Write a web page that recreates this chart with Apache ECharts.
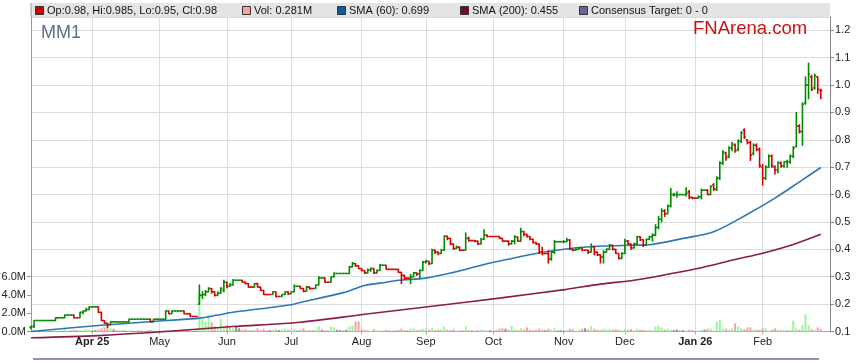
<!DOCTYPE html>
<html><head><meta charset="utf-8">
<script src="https://cdn.jsdelivr.net/npm/echarts@6/dist/echarts.min.js"></script>
<style>html,body{margin:0;padding:0;background:#fff}#c{width:859px;height:363px}</style>
</head><body><div id="c"></div>
<script>
// ---------------- DATA ----------------
const monthNames = ['Jan','Feb','Mar','Apr','May','Jun','Jul','Aug','Sep','Oct','Nov','Dec'];
// trading-day categories: weekdays 2025-03-04 .. 2026-03-04
const categories = [];
(function(){let t=Date.UTC(2025,2,4);const end=Date.UTC(2026,2,4);
 while(t<=end){const d=new Date(t);const w=d.getUTCDay();if(w!==0&&w!==6)categories.push(d.toISOString().slice(0,10));t+=86400000;}})();

const opens = [
.115,.12,.14,.14,.14,.14,.14,.14,.14,.15,
.15,.15,.16,.16,.16,.15,.15,.17,.175,.18,
.19,.19,.19,.17,.14,.13,.125,.135,.135,.135,
.135,.135,.135,.145,.145,.145,.145,.145,.145,.145,
.135,.145,.145,.145,.145,.175,.165,.175,.175,.175,
.175,.165,.165,.155,.155,.20,.232,.235,.245,.257,
.245,.232,.24,.25,.28,.265,.27,.287,.287,.287,
.28,.275,.262,.262,.275,.262,.25,.235,.235,.235,
.245,.228,.228,.235,.245,.238,.245,.265,.265,.257,
.247,.262,.257,.257,.27,.296,.296,.28,.28,.30,
.312,.312,.312,.312,.312,.336,.348,.34,.33,.323,
.314,.325,.33,.314,.323,.342,.342,.327,.327,.327,
.327,.316,.305,.295,.295,.30,.314,.31,.323,.354,
.356,.348,.397,.39,.385,.397,.448,.44,.419,.403,
.408,.397,.397,.44,.432,.432,.43,.42,.437,.452,
.447,.447,.447,.447,.44,.43,.43,.42,.43,.445,
.43,.465,.455,.447,.437,.425,.42,.39,.385,.385,
.365,.39,.428,.428,.428,.428,.434,.40,.397,.40,
.405,.397,.397,.39,.41,.39,.38,.372,.39,.40,
.415,.40,.385,.367,.385,.43,.42,.405,.42,.446,
.435,.415,.437,.446,.452,.48,.51,.54,.53,.558,
.60,.60,.60,.60,.60,.61,.59,.587,.587,.592,
.616,.616,.60,.635,.62,.66,.715,.75,.74,.77,
.78,.765,.795,.835,.80,.79,.75,.78,.765,.70,
.66,.70,.74,.70,.69,.715,.705,.72,.72,.74,
.775,.85,.83,.935,1.0,1.03,.99,1.03,.98];
const highs = [
.12,.14,.14,.14,.14,.14,.14,.14,.15,.15,
.15,.16,.16,.16,.16,.15,.17,.175,.185,.19,
.19,.19,.19,.17,.14,.13,.135,.135,.135,.135,
.135,.135,.145,.145,.145,.145,.145,.145,.145,.145,
.145,.145,.145,.145,.175,.175,.175,.175,.175,.175,
.175,.165,.165,.155,.155,.27,.245,.25,.26,.257,
.245,.245,.26,.287,.28,.275,.29,.287,.287,.287,
.28,.275,.262,.275,.275,.262,.25,.235,.235,.245,
.245,.228,.235,.245,.245,.245,.27,.265,.265,.257,
.265,.262,.257,.27,.30,.296,.296,.28,.30,.315,
.312,.312,.312,.312,.338,.352,.348,.34,.33,.323,
.328,.332,.33,.325,.345,.342,.342,.327,.327,.327,
.327,.316,.305,.295,.308,.316,.314,.325,.356,.36,
.356,.40,.397,.39,.40,.45,.448,.44,.419,.412,
.408,.397,.46,.445,.432,.432,.43,.44,.472,.452,
.447,.447,.447,.447,.44,.43,.43,.432,.45,.445,
.477,.465,.455,.447,.437,.425,.42,.408,.385,.395,
.392,.432,.428,.428,.432,.44,.436,.40,.402,.408,
.405,.397,.397,.42,.41,.39,.38,.395,.402,.418,
.415,.40,.385,.388,.437,.432,.42,.422,.448,.446,
.435,.437,.448,.456,.49,.52,.548,.545,.562,.622,
.605,.61,.60,.60,.625,.615,.59,.587,.595,.62,
.616,.618,.632,.64,.665,.72,.76,.755,.775,.79,
.785,.80,.83,.84,.80,.795,.785,.785,.77,.71,
.705,.745,.745,.705,.72,.72,.72,.725,.745,.775,
.90,.855,.935,1.03,1.08,1.035,1.04,1.03,.985];
const lows = [
.11,.115,.14,.14,.14,.14,.14,.14,.14,.15,
.15,.15,.16,.16,.15,.15,.15,.165,.175,.18,
.19,.19,.17,.14,.13,.115,.125,.135,.135,.135,
.135,.135,.135,.145,.145,.145,.145,.145,.145,.135,
.135,.145,.145,.145,.145,.165,.165,.175,.175,.175,
.165,.165,.155,.155,.155,.20,.22,.232,.245,.24,
.23,.232,.24,.245,.26,.265,.27,.287,.287,.28,
.275,.262,.262,.262,.262,.25,.235,.235,.235,.235,
.226,.228,.228,.235,.235,.238,.245,.265,.257,.245,
.247,.255,.257,.257,.27,.296,.28,.28,.28,.30,
.312,.312,.312,.312,.312,.336,.338,.33,.322,.312,
.314,.32,.312,.314,.323,.342,.327,.327,.327,.327,
.316,.275,.29,.295,.275,.30,.305,.295,.323,.35,
.345,.348,.385,.38,.385,.397,.435,.418,.40,.403,
.395,.397,.397,.43,.432,.428,.418,.42,.437,.445,
.447,.447,.447,.44,.43,.43,.415,.42,.42,.43,
.43,.45,.445,.435,.422,.418,.385,.38,.385,.35,
.36,.385,.428,.428,.425,.428,.40,.395,.397,.40,
.395,.397,.385,.39,.38,.378,.35,.35,.39,.40,
.398,.385,.365,.367,.385,.418,.40,.405,.42,.432,
.41,.415,.435,.43,.45,.475,.50,.52,.53,.555,
.595,.59,.60,.60,.595,.585,.585,.587,.587,.585,
.616,.60,.60,.615,.615,.655,.71,.725,.735,.76,
.755,.76,.79,.805,.785,.725,.745,.76,.70,.635,
.655,.70,.70,.675,.68,.70,.70,.70,.715,.735,
.775,.825,.78,.93,.95,.98,.985,.97,.95];
const closes = [
.115,.14,.14,.14,.14,.14,.14,.14,.15,.15,
.15,.16,.16,.16,.15,.15,.17,.175,.18,.19,
.19,.19,.17,.14,.13,.125,.135,.135,.135,.135,
.135,.135,.145,.145,.145,.145,.145,.145,.145,.135,
.145,.145,.145,.145,.175,.165,.175,.175,.175,.175,
.165,.165,.155,.155,.155,.232,.235,.245,.257,.245,
.232,.24,.257,.28,.265,.27,.287,.287,.287,.28,
.275,.262,.262,.275,.262,.25,.235,.235,.235,.245,
.228,.228,.235,.245,.238,.245,.265,.265,.257,.247,
.262,.257,.257,.27,.296,.296,.28,.28,.30,.312,
.312,.312,.312,.312,.336,.348,.34,.33,.323,.314,
.325,.33,.314,.323,.342,.342,.327,.327,.327,.327,
.316,.305,.295,.295,.30,.314,.31,.323,.354,.356,
.348,.397,.39,.385,.397,.448,.44,.419,.403,.408,
.397,.397,.44,.432,.432,.43,.42,.437,.452,.447,
.447,.447,.447,.44,.43,.43,.42,.43,.445,.43,
.465,.455,.447,.437,.425,.42,.39,.385,.385,.365,
.39,.428,.428,.428,.428,.434,.40,.397,.40,.405,
.397,.397,.39,.41,.39,.38,.372,.39,.40,.415,
.40,.385,.367,.385,.43,.42,.405,.42,.446,.435,
.415,.437,.446,.452,.48,.51,.54,.53,.558,.60,
.60,.60,.60,.60,.605,.59,.587,.587,.592,.616,
.616,.60,.63,.62,.66,.715,.755,.735,.77,.785,
.76,.795,.825,.81,.79,.745,.78,.765,.705,.66,
.70,.74,.705,.69,.715,.705,.72,.72,.74,.77,
.85,.83,.93,1.0,1.04,.985,1.035,.985,.98];
// volume in millions of shares
const volumes = [
.1,.2,.05,.05,.08,0,.05,.06,.15,.05,
.08,.3,.05,.1,.2,.1,.2,.15,.25,.2,
.1,.15,.25,.35,.45,.55,.35,.25,.1,.08,
.12,.1,.1,.08,.05,.1,.08,.05,.1,.18,
.12,.05,.1,.08,.15,.1,.12,.1,.15,.1,
.15,.1,.12,.05,.1,4.2,1.5,1.1,1.8,1.0,
.55,.35,1.35,.4,.7,.5,.35,.5,.35,.2,
.25,.15,.1,.2,.35,.15,.3,.1,.15,.2,
.25,.15,.25,.3,.2,.3,.25,.1,.2,.35,
.2,.15,.1,.25,.55,.2,.15,.1,.55,.5,
.2,.15,.1,.2,.55,.65,1.1,1.1,.2,.15,
.2,.1,.25,.1,.15,.05,.2,.1,.05,.1,
.2,.3,.15,.1,.3,.35,.15,.25,.3,.35,
.2,.35,.15,.2,.25,.55,.2,.15,.25,.1,
.15,.1,.55,.15,.1,.1,.15,.2,.2,.1,
.15,.05,.1,.3,.35,.3,.2,.6,.3,.15,
.35,.2,.45,.2,.15,.2,.3,.2,.15,.3,
.2,.35,.1,.15,.1,.15,.3,.25,.1,.2,
.3,.35,.25,.6,.3,.2,.15,.3,.2,.25,
.2,.25,.2,.15,.3,.2,.25,.15,.3,.2,
.2,.15,.2,.15,.55,.65,.45,.2,.3,.2,
.15,.2,.1,.15,.1,.2,.15,0,.1,.2,
.2,.3,.35,.1,1.1,1.3,.3,.3,.2,.35,
.9,.55,.35,.25,.45,.45,.25,.2,.2,.35,
.35,.1,.2,.35,.25,.15,.2,.1,.2,1.2,
.35,.2,.7,1.9,.7,.25,.2,.45,.281];
// moving averages: [trading-day index, value]
const sma60Points = [[0,.100],[22,.122],[44,.140],[55,.149],[61,.160],[66,.170],[75,.183],[85,.198],[88,.206],[102,.242],[109,.268],[116,.280],[120,.287],[129,.295],[138,.316],[148,.345],[155,.362],[165,.385],[176,.403],[187,.412],[196,.415],[202,.417],[213,.440],[223,.464],[234,.528],[243,.587],[252,.654],[258,.699]];
const sma200Points = [[0,.077],[22,.085],[44,.100],[66,.118],[88,.134],[109,.163],[131,.192],[153,.222],[175,.254],[186,.273],[197,.287],[208,.309],[219,.333],[230,.363],[239,.386],[249,.418],[258,.455]];
const legendItems = [
  {label:'Op:0.98, Hi:0.985, Lo:0.95, Cl:0.98', color:'#cc0000', x:35},
  {label:'Vol: 0.281M', color:'#ff9f9f', x:242},
  {label:'SMA (60): 0.699', color:'#0b5e9e', x:337},
  {label:'SMA (200): 0.455', color:'#7a0a2a', x:460},
  {label:'Consensus Target: 0 - 0', color:'#66669a', x:579}
];
// --------------------------------------
const N = closes.length;
[opens,highs,lows,volumes].forEach((a,k)=>{ if(a.length!==N) throw new Error('length mismatch '+k+': '+a.length+' vs '+N); });

const FONT = '"Liberation Sans", Arial, sans-serif';
const UP='#008a00', DOWN='#d40000';
const VUP='#9af59a', VDOWN='#f5a0a0', VFLAT='#8c8c8c';
const trend=[], volColor=[];
for(let i=0;i<N;i++){
  let t;
  if(i===0){t=closes[0]>=opens[0]?'up':'down';}
  else if(closes[i]>closes[i-1]) t='up';
  else if(closes[i]<closes[i-1]) t='down';
  else t=trend[i-1];
  trend.push(t);
  volColor.push(i>0&&closes[i]===closes[i-1]?VFLAT:(t==='up'?VUP:VDOWN));
}
const ohlc = closes.map((c,i)=>[i,opens[i],highs[i],lows[i],c]);
const volData = volumes.map((v,i)=>({value:v,itemStyle:{color:volColor[i]}}));

// month label positions (only within the traded range)
const labelText = {};
let firstLabel = true;
for(let i=1;i<N;i++){
  const m = +categories[i].slice(5,7), pm = +categories[i-1].slice(5,7);
  if(m!==pm){
    const yy = categories[i].slice(2,4);
    if(firstLabel || m===1) labelText[i] = '{b|'+monthNames[m-1]+' '+yy+'}';
    else labelText[i] = monthNames[m-1];
    firstLabel=false;
  }
}
const isLabel = (i)=>labelText[i]!==undefined;

const PMIN=0.1, P12Y=30.3, BOTY=331.5, TOPY=17;
const PMAX = PMIN + 1.1*(BOTY-TOPY)/(BOTY-P12Y);

const graphics = [
  {type:'rect', shape:{x:31,y:3,width:799,height:14}, style:{fill:'#e4e4e4'}, z:10},
  {type:'line', shape:{x1:31,y1:3,x2:31,y2:17}, style:{stroke:'#999',lineWidth:1}, z:11},
  {type:'rect', shape:{x:33,y:358,width:786,height:2}, style:{fill:'#8f90bd'}, z:10},
  {type:'text', x:41, y:33, style:{text:'MM1', fill:'#5d7090', font:'18px '+FONT, verticalAlign:'middle', textVerticalAlign:'middle'}, z:10},
  {type:'text', x:693, y:29, style:{text:'FNArena.com', fill:'#cc1111', font:'18.5px '+FONT, verticalAlign:'middle', textVerticalAlign:'middle'}, z:10}
];
legendItems.forEach(it=>{
  graphics.push({type:'rect', shape:{x:it.x+0.5,y:6.5,width:8,height:8}, style:{fill:it.color, stroke:'#333', lineWidth:1}, z:12});
  graphics.push({type:'text', x:it.x+12, y:10.5, style:{text:it.label, fill:'#111', font:'11px '+FONT, verticalAlign:'middle', textVerticalAlign:'middle'}, z:12});
});

const chart = echarts.init(document.getElementById('c'), null, {renderer:'canvas'});
chart.setOption({
  animation:false,
  backgroundColor:'#fff',
  grid:[
    {left:31, right:29, top:TOPY, bottom:363-BOTY, outerBoundsMode:'none'},
    {left:31, right:29, top:BOTY-2*(BOTY-P12Y)/11, bottom:363-BOTY, outerBoundsMode:'none'}
  ],
  xAxis:[
    {type:'category', gridIndex:0, data:categories, boundaryGap:false,
     axisLine:{show:true,onZero:false,lineStyle:{color:'#aaa'}},
     axisTick:{show:true,interval:isLabel,length:3,lineStyle:{color:'#aaa'}},
     axisLabel:{interval:isLabel, formatter:(v,i)=>labelText[i]||'', margin:5, fontSize:11, color:'#222', fontFamily:FONT,
       rich:{b:{fontWeight:'bold',fontSize:11,color:'#222',fontFamily:FONT}}},
     splitLine:{show:true,interval:isLabel,lineStyle:{color:'#dcdcdc',width:1}}},
    {type:'category', gridIndex:1, data:categories, boundaryGap:false, show:false}
  ],
  yAxis:[
    {type:'value', gridIndex:0, position:'right', min:PMIN, max:PMAX, interval:0.1,
     axisLine:{show:true,lineStyle:{color:'#888'}},
     axisTick:{show:true,length:4,lineStyle:{color:'#888'}},
     axisLabel:{showMaxLabel:false, margin:5, fontSize:11, color:'#222', fontFamily:FONT,
       formatter:v=>{const r=Math.round(v*10); return (Math.abs(v*10-r)<1e-6 && r>=1 && r<=12)?(r/10).toFixed(1):'';}},
     splitLine:{show:true,lineStyle:{color:'#dcdcdc',width:1}}},
    {type:'value', gridIndex:0, position:'left', min:0, max:1,
     axisLine:{show:true,lineStyle:{color:'#999'}}, axisLabel:{show:false}, axisTick:{show:false}, splitLine:{show:false}},
    {type:'value', gridIndex:1, position:'left', min:0, max:6, interval:2,
     axisLine:{show:true,lineStyle:{color:'#999'}},
     axisTick:{show:true,length:4,lineStyle:{color:'#999'}},
     axisLabel:{margin:5, fontSize:11, color:'#222', fontFamily:FONT, formatter:v=>v.toFixed(1)+'M'},
     splitLine:{show:false}}
  ],
  graphic:graphics,
  series:[
    {type:'bar', xAxisIndex:1, yAxisIndex:2, data:volData, barWidth:2, z:1, silent:true},
    {type:'line', xAxisIndex:0, yAxisIndex:0, data:sma200Points, smooth:0.3, symbol:'none', clip:false,
     lineStyle:{color:'#8c1d40',width:1.6}, z:3, silent:true},
    {type:'line', xAxisIndex:0, yAxisIndex:0, data:sma60Points, smooth:0.3, symbol:'none', clip:false,
     lineStyle:{color:'#2a78b8',width:1.6}, z:3, silent:true},
    {type:'custom', xAxisIndex:0, yAxisIndex:0, data:ohlc, encode:{x:0,y:[1,2,3,4]}, z:5, silent:true,
     renderItem:(params,api)=>{
       const i=api.value(0);
       const pH=api.coord([i,api.value(2)]), pL=api.coord([i,api.value(3)]);
       const pO=api.coord([i,api.value(1)]), pC=api.coord([i,api.value(4)]);
       const half=api.size([1,0])[0]/2;
       const col=trend[params.dataIndex]==='up'?UP:DOWN;
       const x=pH[0];
       const st={stroke:col,lineWidth:1.6};
       return {type:'group',children:[
         {type:'line',shape:{x1:x,y1:pH[1]-0.5,x2:x,y2:pL[1]+0.5},style:st},
         {type:'line',shape:{x1:x-half,y1:pO[1],x2:x,y2:pO[1]},style:st},
         {type:'line',shape:{x1:x,y1:pC[1],x2:x+half,y2:pC[1]},style:st}
       ]};
     }}
  ]
});
</script></body></html>
